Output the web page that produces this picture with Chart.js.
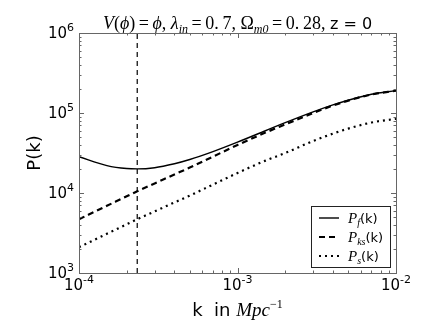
<!DOCTYPE html>
<html>
<head>
<meta charset="utf-8">
<script src="https://cdn.jsdelivr.net/npm/chart.js@4/dist/chart.umd.min.js"></script>
<style>
  body { margin: 0; background: #fff; }
  #wrap { width: 440px; height: 330px; }
</style>
</head>
<body>
<div id="wrap"><canvas id="chart"></canvas></div>
<script>
// k in Mpc^-1
const kValues = [1e-4, 1.5e-4, 2e-4, 2.33e-4, 3e-4, 4e-4, 5e-4, 7e-4, 1e-3, 1.5e-3, 2e-3, 3e-3, 4e-3, 5e-3, 7e-3, 1e-2];
const pF  = [28400, 22000, 20200, 20000, 20700, 23200, 26200, 32900, 43200, 60000, 75700, 103300, 126200, 144500, 171400, 190500];
const pKs = [4700, 6920, 9080, 10520, 13180, 17060, 20800, 28500, 39800, 56900, 72000, 100000, 123900, 142900, 170200, 189700];
const pS  = [2100, 3090, 4060, 4700, 5890, 7620, 9290, 12740, 17780, 25400, 31600, 44700, 55300, 63800, 76000, 84700];
const kCross = 2.33e-4;
const xTickExp = [-4, -3, -2];
const yTickExp = [3, 4, 5, 6];
const seriesNames = [['P', 'f'], ['P', 'ks'], ['P', 's']];

const SERIF = '"Liberation Serif", "DejaVu Serif", serif';
const SANS = '"DejaVu Sans", sans-serif';
const frameColor = '#666';

function pts(ys) {
    return kValues.map((k, i) => ({ x: k, y: ys[i] }));
}

// draw a list of [text, font, dy] runs starting at x
function runs(ctx, list, x, y, measureOnly) {
    let cx = x;
    list.forEach(r => {
        ctx.font = r[1];
        if (!measureOnly) ctx.fillText(r[0], cx, y + (r[2] || 0));
        cx += ctx.measureText(r[0]).width;
    });
    return cx - x;
}

function power10(ctx, exp, x, y, align) {
    const list = [['10', '15px ' + SANS, 0], [String(exp), '11px ' + SANS, -7]];
    ctx.textAlign = 'left';
    const w = runs(ctx, list, 0, 0, true);
    let sx = x;
    if (align === 'right') sx = x - w;
    if (align === 'center') sx = x - w / 2;
    runs(ctx, list, sx, y);
}

const decorations = {
    id: 'decorations',
    afterDraw(chart) {
        const ctx = chart.ctx;
        const a = chart.chartArea;
        const xs = chart.scales.x, ys = chart.scales.y;
        ctx.save();
        ctx.textBaseline = 'alphabetic';
        ctx.fillStyle = '#000';

        // frame
        ctx.strokeStyle = frameColor;
        ctx.lineWidth = 1;
        ctx.strokeRect(Math.round(a.left) + 0.5, Math.round(a.top) + 0.5, Math.round(a.right - a.left), Math.round(a.bottom - a.top));

        // ticks, inside on all four sides
        ctx.beginPath();
        for (let e = -4; e <= -2; e++) {
            for (let m = 1; m <= 9; m++) {
                const v = m * Math.pow(10, e);
                if (v > 1e-2 + 1e-9) break;
                const px = Math.round(xs.getPixelForValue(v)) + 0.5;
                const len = m === 1 ? 5 : 2.5;
                ctx.moveTo(px, a.bottom); ctx.lineTo(px, a.bottom - len);
                ctx.moveTo(px, a.top); ctx.lineTo(px, a.top + len);
            }
        }
        for (let e = 3; e <= 6; e++) {
            for (let m = 1; m <= 9; m++) {
                const v = m * Math.pow(10, e);
                if (v > 1e6 + 1) break;
                const py = Math.round(ys.getPixelForValue(v)) + 0.5;
                const len = m === 1 ? 5 : 2.5;
                ctx.moveTo(a.left, py); ctx.lineTo(a.left + len, py);
                ctx.moveTo(a.right, py); ctx.lineTo(a.right - len, py);
            }
        }
        ctx.stroke();

        // tick labels
        yTickExp.forEach(e => {
            power10(ctx, e, a.left - 5, ys.getPixelForValue(Math.pow(10, e)) + 5, 'right');
        });
        xTickExp.forEach(e => {
            power10(ctx, e, xs.getPixelForValue(Math.pow(10, e)), a.bottom + 17, 'center');
        });

        const cxMid = (a.left + a.right) / 2;

        // title
        const it = 'italic 18px ' + SERIF, rm = '18px ' + SERIF, sub = 'italic 12px ' + SERIF;
        const title = [
            ['V', it], ['(', rm], ['\u03d5', it], [')', rm],
            ['\u2009=\u2009', rm], ['\u03d5', it], [', ', rm],
            ['\u03bb', it], ['in', sub, 4], ['\u2009=\u20090.\u20097, ', rm],
            ['\u03a9', rm], ['m0', sub, 4], ['\u2009=\u20090.\u200928, ', rm], ['z = 0', '16px ' + SANS]
        ];
        const tw = runs(ctx, title, 0, 0, true);
        runs(ctx, title, cxMid - tw / 2, 29);

        // x axis title
        const xt = [['k  in ', '18px ' + SANS], ['Mpc', 'italic 19px ' + SERIF], ['\u22121', '12px ' + SERIF, -8]];
        const xw = runs(ctx, xt, 0, 0, true);
        runs(ctx, xt, cxMid - xw / 2, 316);

        // y axis title
        ctx.save();
        ctx.translate(40, (a.top + a.bottom) / 2);
        ctx.rotate(-Math.PI / 2);
        ctx.font = '18px ' + SANS;
        ctx.textAlign = 'center';
        ctx.fillText('P(k)', 0, 0);
        ctx.restore();

        // legend
        const lx = 311, ly = 206, lw = 79, lh = 61;
        ctx.fillStyle = '#fff';
        ctx.fillRect(lx, ly, lw, lh);
        ctx.strokeStyle = '#222';
        ctx.strokeRect(lx + 0.5, ly + 0.5, lw, lh);
        ctx.fillStyle = '#000';
        chart.data.datasets.slice(0, 3).forEach((ds, i) => {
            const y = ly + 12 + i * 19;
            ctx.save();
            ctx.strokeStyle = '#000';
            ctx.lineWidth = ds.borderWidth;
            ctx.setLineDash(ds.borderDash || []);
            ctx.beginPath();
            ctx.moveTo(319, y); ctx.lineTo(339, y);
            ctx.stroke();
            ctx.restore();
            const nm = seriesNames[i];
            runs(ctx, [[nm[0], 'italic 15px ' + SERIF], [nm[1], 'italic 10px ' + SERIF, 3], ['(k)', '13px ' + SANS]], 348, y + 5);
        });
        ctx.restore();
    }
};

new Chart(document.getElementById('chart'), {
    type: 'line',
    data: {
        datasets: [
            { label: 'P_f(k)', data: pts(pF), borderColor: '#000', borderWidth: 1.4, cubicInterpolationMode: 'monotone' },
            { label: 'P_ks(k)', data: pts(pKs), borderColor: '#000', borderWidth: 2.2, borderDash: [6, 4], cubicInterpolationMode: 'monotone' },
            { label: 'P_s(k)', data: pts(pS), borderColor: '#000', borderWidth: 2.2, borderDash: [2, 4], cubicInterpolationMode: 'monotone' },
            { label: 'k*', data: [{ x: kCross, y: 1e3 }, { x: kCross, y: 1e6 }], borderColor: '#000', borderWidth: 1.2, borderDash: [5, 4] }
        ]
    },
    options: {
        responsive: true,
        maintainAspectRatio: false,
        animation: false,
        elements: { point: { radius: 0 } },
        layout: { padding: { left: 79, right: 44, top: 33, bottom: 57 } },
        plugins: {
            legend: { display: false },
            tooltip: { enabled: false }
        },
        scales: {
            x: {
                type: 'logarithmic', min: 1e-4, max: 1e-2,
                ticks: { display: false },
                grid: { display: false, drawTicks: false },
                border: { display: false },
                afterFit: s => { s.height = 0; }
            },
            y: {
                type: 'logarithmic', min: 1e3, max: 1e6,
                ticks: { display: false },
                grid: { display: false, drawTicks: false },
                border: { display: false },
                afterFit: s => { s.width = 0; }
            }
        }
    },
    plugins: [decorations]
});
</script>
</body>
</html>
